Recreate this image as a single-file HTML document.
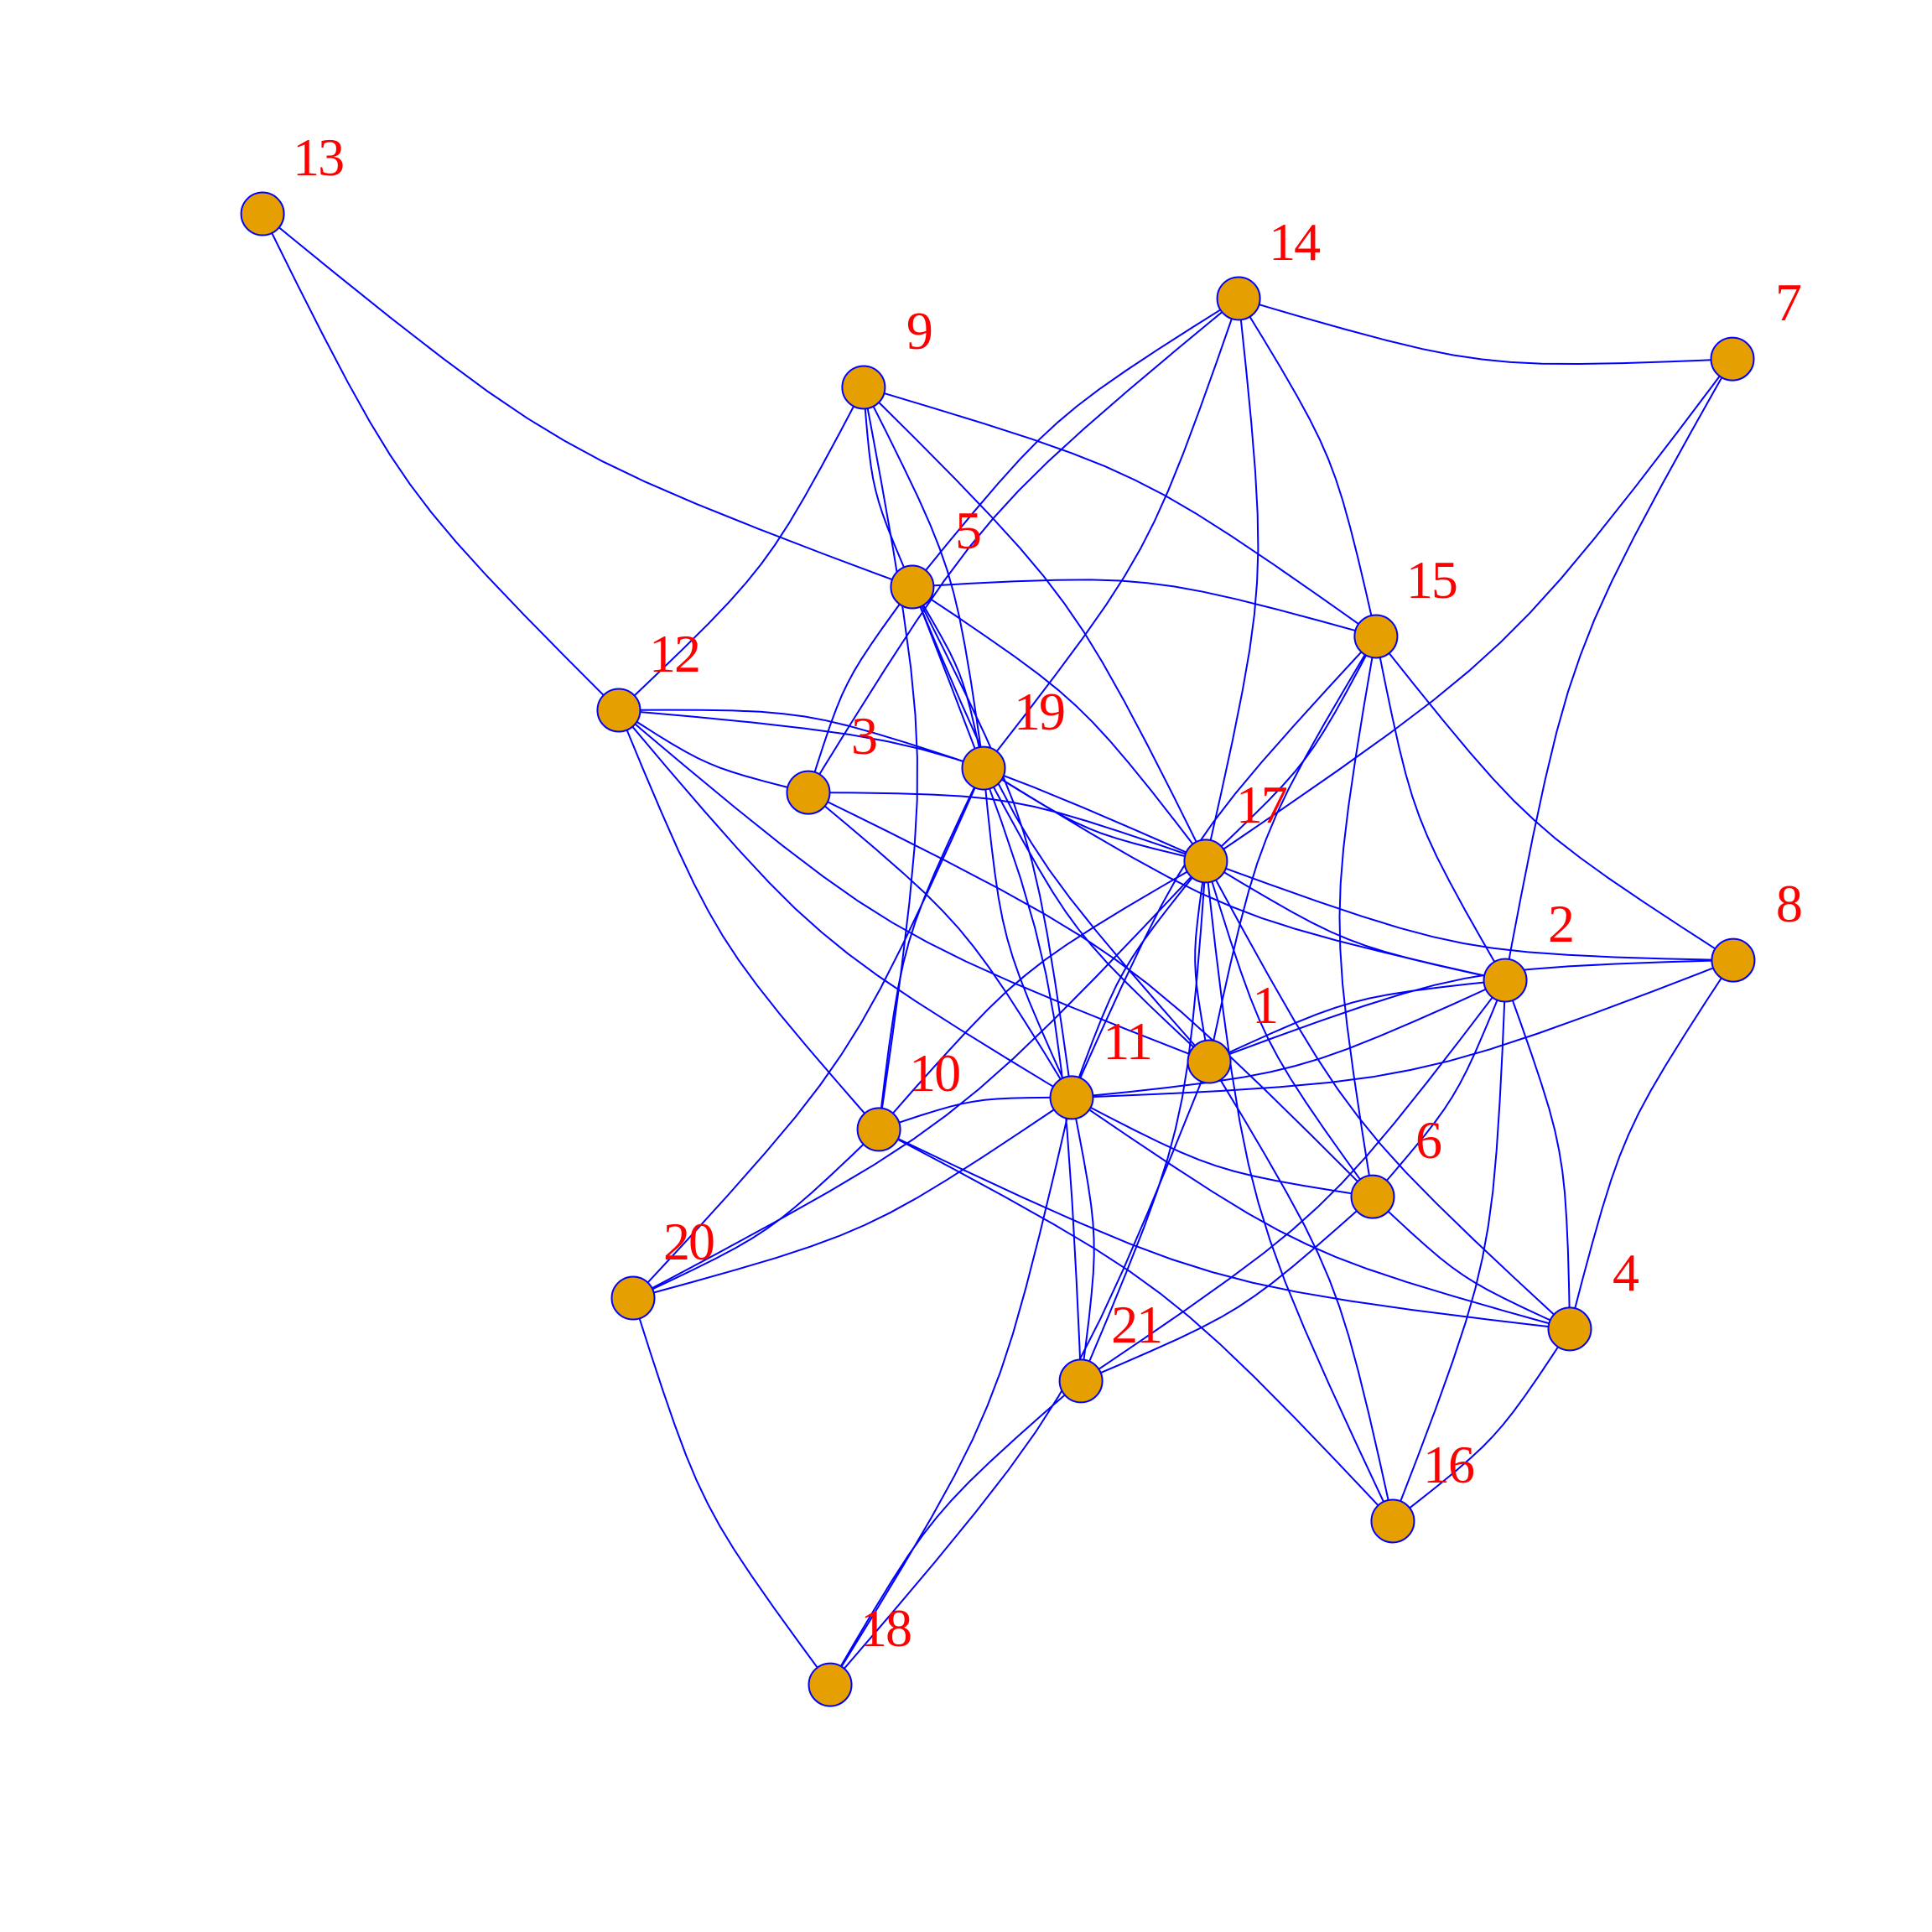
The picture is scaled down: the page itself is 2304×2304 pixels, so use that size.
<!DOCTYPE html>
<html lang="en">
<head>
<meta charset="utf-8">
<title>Network graph</title>
<style>
html,body{margin:0;padding:0;background:#fff;}
svg{display:block;}
text{font-family:"Liberation Serif",serif;font-size:64px;letter-spacing:-2px;fill:#ff0000;text-anchor:middle;}
</style>
</head>
<body>
<svg id="chart" xmlns="http://www.w3.org/2000/svg" width="2304" height="2304" viewBox="0 0 2304 2304">
<rect width="2304" height="2304" fill="#ffffff"/>
<g id="edges" fill="none" stroke="#0000ff" stroke-width="2"></g>
<g id="nodes"></g>
<g id="labels"></g>
</svg>
<script>
const nodeIds = [1,2,3,4,5,6,7,8,9,10,11,12,13,14,15,16,17,18,19,20,21];
const layoutX = [62.59,77.91,41.84,81.25,47.22,71.05,89.67,89.71,44.70,45.49,55.47,32.03,13.59,64.11,71.22,72.09,62.41,42.97,50.91,32.77,55.95];
const layoutY = [54.95,50.74,41.02,68.79,30.38,61.94,18.58,49.70,20.05,58.46,56.81,36.76,11.07,15.45,32.94,78.73,44.57,87.20,39.76,67.19,71.48];
const edgeFrom = [5,12,9,5,9,9,9,9,12,12,3,1,11,10,3,3,3,3,3,5,5,5,5,5,1,14,14,14,7,7,2,17,2,1,11,5,19,10,15,11,1,6,2,8,10,17,11,17,1,16,6,4,8,2,10,10,11,18,11,18,1,11,2,6,1,1,1,2,8,2,2,2,4,4,4,4,4,10,6];
const edgeTo = [13,13,12,9,10,19,17,15,19,17,12,12,12,12,5,14,17,6,11,14,15,17,19,11,5,19,17,15,14,17,7,19,19,19,19,21,20,19,17,15,15,15,15,15,17,20,17,21,17,17,17,17,17,17,11,20,20,20,18,21,18,21,21,21,16,2,8,11,11,6,4,16,8,16,6,11,10,16,11];

const curveAmount = 0.093;
const pxPerUnit = 23.04;
const xScale = v => v * pxPerUnit;
const yScale = v => v * pxPerUnit;
const nodeRadius = 25.5;
const labelDx = 66;
const labelDy = -46;
const SVG_NS = 'http://www.w3.org/2000/svg';

function fBlend(n, d) {
  const p = 2 * d * d, u = n / d, u2 = u * u;
  return u * u2 * (10 - p + (2 * p - 15) * u + (6 - p) * u2);
}
function xsplineSegment(a, b, c, d, s1, s2, t) {
  let T = 1 + s1;
  const A0 = t + 1 < T ? fBlend(t + 1 - T, 0 - T) : 0;
  T = 1 - s1;
  const A2 = fBlend(t + 1 - T, 2 - T);
  T = 2 + s2;
  const A1 = fBlend(t + 1 - T, 1 - T);
  T = 2 - s2;
  const A3 = t + 1 > T ? fBlend(t + 1 - T, 3 - T) : 0;
  const w = A0 + A1 + A2 + A3;
  return [
    (A0 * a[0] + A1 * b[0] + A2 * c[0] + A3 * d[0]) / w,
    (A0 * a[1] + A1 * b[1] + A2 * c[1] + A3 * d[1]) / w
  ];
}
function edgePoints(i, j) {
  const x0 = xScale(layoutX[i]), y0 = yScale(layoutY[i]);
  const x1 = xScale(layoutX[j]), y1 = yScale(layoutY[j]);
  const dx = x1 - x0, dy = y1 - y0;
  const p0 = [x0, y0], p2 = [x1, y1];
  const p1 = [(x0 + x1) / 2 + dy * curveAmount, (y0 + y1) / 2 - dx * curveAmount];
  const pts = [];
  const steps = 8;
  for (let k = 0; k <= steps; k++) pts.push(xsplineSegment(p0, p0, p1, p2, 0, 1, k / steps));
  for (let k = 1; k <= steps; k++) pts.push(xsplineSegment(p0, p1, p2, p2, 1, 0, k / steps));
  return pts;
}

const edgeLayer = document.getElementById('edges');
edgeFrom.forEach((f, n) => {
  const t = edgeTo[n];
  const i = Math.min(f, t) - 1, j = Math.max(f, t) - 1;
  const el = document.createElementNS(SVG_NS, 'polyline');
  el.setAttribute('points', edgePoints(i, j).map(p => p[0].toFixed(1) + ',' + p[1].toFixed(1)).join(' '));
  
  
  edgeLayer.appendChild(el);
});

const nodeLayer = document.getElementById('nodes');
const labelLayer = document.getElementById('labels');
nodeIds.forEach((id, i) => {
  const c = document.createElementNS(SVG_NS, 'circle');
  c.setAttribute('cx', xScale(layoutX[i]));
  c.setAttribute('cy', yScale(layoutY[i]));
  c.setAttribute('r', nodeRadius);
  c.setAttribute('fill', '#E69F00');
  c.setAttribute('stroke', '#0000ff');
  c.setAttribute('stroke-width', '2');
  
  
  nodeLayer.appendChild(c);
  const t = document.createElementNS(SVG_NS, 'text');
  t.setAttribute('x', xScale(layoutX[i]) + labelDx);
  t.setAttribute('y', yScale(layoutY[i]) + labelDy);
  t.textContent = String(id);
  
  
  labelLayer.appendChild(t);
});
</script>
</body>
</html>
